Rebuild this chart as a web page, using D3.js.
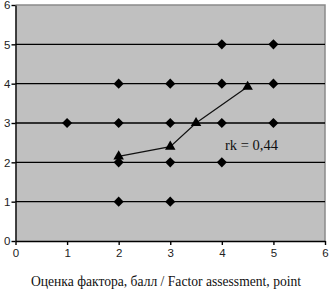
<!DOCTYPE html>
<html lang="en">
<head>
    <meta charset="UTF-8">
    <title>Chart</title>
    <style>
        body { margin: 0; background: #fff; }
    </style>
</head>
<body>
    <svg id="svg" width="329" height="289"></svg>

    <script src="https://d3js.org/d3.v7.min.js"></script>
    <script>
        // observed ratings (diamonds)
        const obsX = [1, 2, 2, 2, 2, 3, 3, 3, 3, 4, 4, 4, 4, 5, 5, 5]
        const obsY = [3, 1, 2, 3, 4, 1, 2, 3, 4, 2, 3, 4, 5, 3, 4, 5]
        // mean line (triangles)
        const meanX = [2, 3, 3.5, 4.5]
        const meanY = [2.15, 2.4, 3.0, 3.92]
        const ticks = [0, 1, 2, 3, 4, 5, 6]
        const gridLines = [1, 2, 3, 4, 5]
        const rkLabel = 'rk = 0,44'
        const xTitle = 'Оценка фактора, балл / Factor assessment, point'

        const svg = d3.select('#svg')

        const xScale = d3.scaleLinear()
            .domain([0, 6])
            .range([15.5, 325])
        const yScale = d3.scaleLinear()
            .domain([0, 6])
            .range([241, 5])

        // plot background
        svg.append('rect')
            .attr('x', xScale(0))
            .attr('y', yScale(6))
            .attr('width', xScale(6) - xScale(0))
            .attr('height', yScale(0) - yScale(6))
            .attr('fill', '#c0c0c0')

        // top and right border
        svg.append('path')
            .attr('d', `M${xScale(0)},${yScale(6)}H${xScale(6)}V${yScale(0)}`)
            .attr('fill', 'none')
            .attr('stroke', '#8a8a8a')
            .attr('stroke-width', 1.5)

        // horizontal grid
        svg.selectAll('.grid')
            .data(gridLines)
            .enter()
            .append('line')
            .attr('x1', xScale(0))
            .attr('x2', xScale(6))
            .attr('y1', d => yScale(d))
            .attr('y2', d => yScale(d))
            .attr('stroke', '#000')
            .attr('stroke-width', 1.4)

        // axes
        const xAxis = svg.append('g')
            .attr('transform', `translate(0,${yScale(0)})`)
            .call(d3.axisBottom(xScale).tickValues(ticks).tickSize(4).tickSizeOuter(0).tickFormat(d3.format('d')))
        const yAxis = svg.append('g')
            .attr('transform', `translate(${xScale(0)},0)`)
            .call(d3.axisLeft(yScale).tickValues(ticks).tickSize(4).tickSizeOuter(0).tickFormat(d3.format('d')))

        svg.selectAll('.domain, .tick line')
            .attr('stroke', '#000')
            .attr('stroke-width', 1.4)
        svg.selectAll('.tick text')
            .attr('font-family', 'Liberation Sans, Arial, sans-serif')
            .attr('font-size', 11.5)
            .attr('fill', '#222')
        xAxis.selectAll('.tick text').attr('y', 8)
        yAxis.selectAll('.tick text').attr('x', -5).attr('text-anchor', 'end')

        // mean line
        const meanData = meanX.map((x, i) => ({ x: x, y: meanY[i] }))
        svg.append('path')
            .datum(meanData)
            .attr('d', d3.line().x(d => xScale(d.x)).y(d => yScale(d.y)))
            .attr('fill', 'none')
            .attr('stroke', '#111')
            .attr('stroke-width', 1.2)

        // diamonds
        svg.selectAll('.obs')
            .data(obsX.map((x, i) => ({ x: x, y: obsY[i] })))
            .enter()
            .append('path')
            .attr('d', d3.symbol().type(d3.symbolDiamond2).size(65))
            .attr('transform', d => `translate(${xScale(d.x)},${yScale(d.y)})`)
            .attr('fill', '#000')

        // triangles
        svg.selectAll('.mean')
            .data(meanData)
            .enter()
            .append('path')
            .attr('d', d3.symbol().type(d3.symbolTriangle).size(48))
            .attr('transform', d => `translate(${xScale(d.x)},${yScale(d.y)})`)
            .attr('fill', '#000')

        svg.append('text')
            .attr('x', 225)
            .attr('y', 150)
            .attr('font-family', 'Liberation Serif, Times New Roman, serif')
            .attr('font-size', 14.5)
            .attr('fill', '#111')
            .text(rkLabel)

        svg.append('text')
            .attr('x', 166)
            .attr('y', 286)
            .attr('text-anchor', 'middle')
            .attr('font-family', 'Liberation Serif, Times New Roman, serif')
            .attr('font-size', 13.6)
            .attr('fill', '#111')
            .text(xTitle)
    </script>
</body>
</html>
